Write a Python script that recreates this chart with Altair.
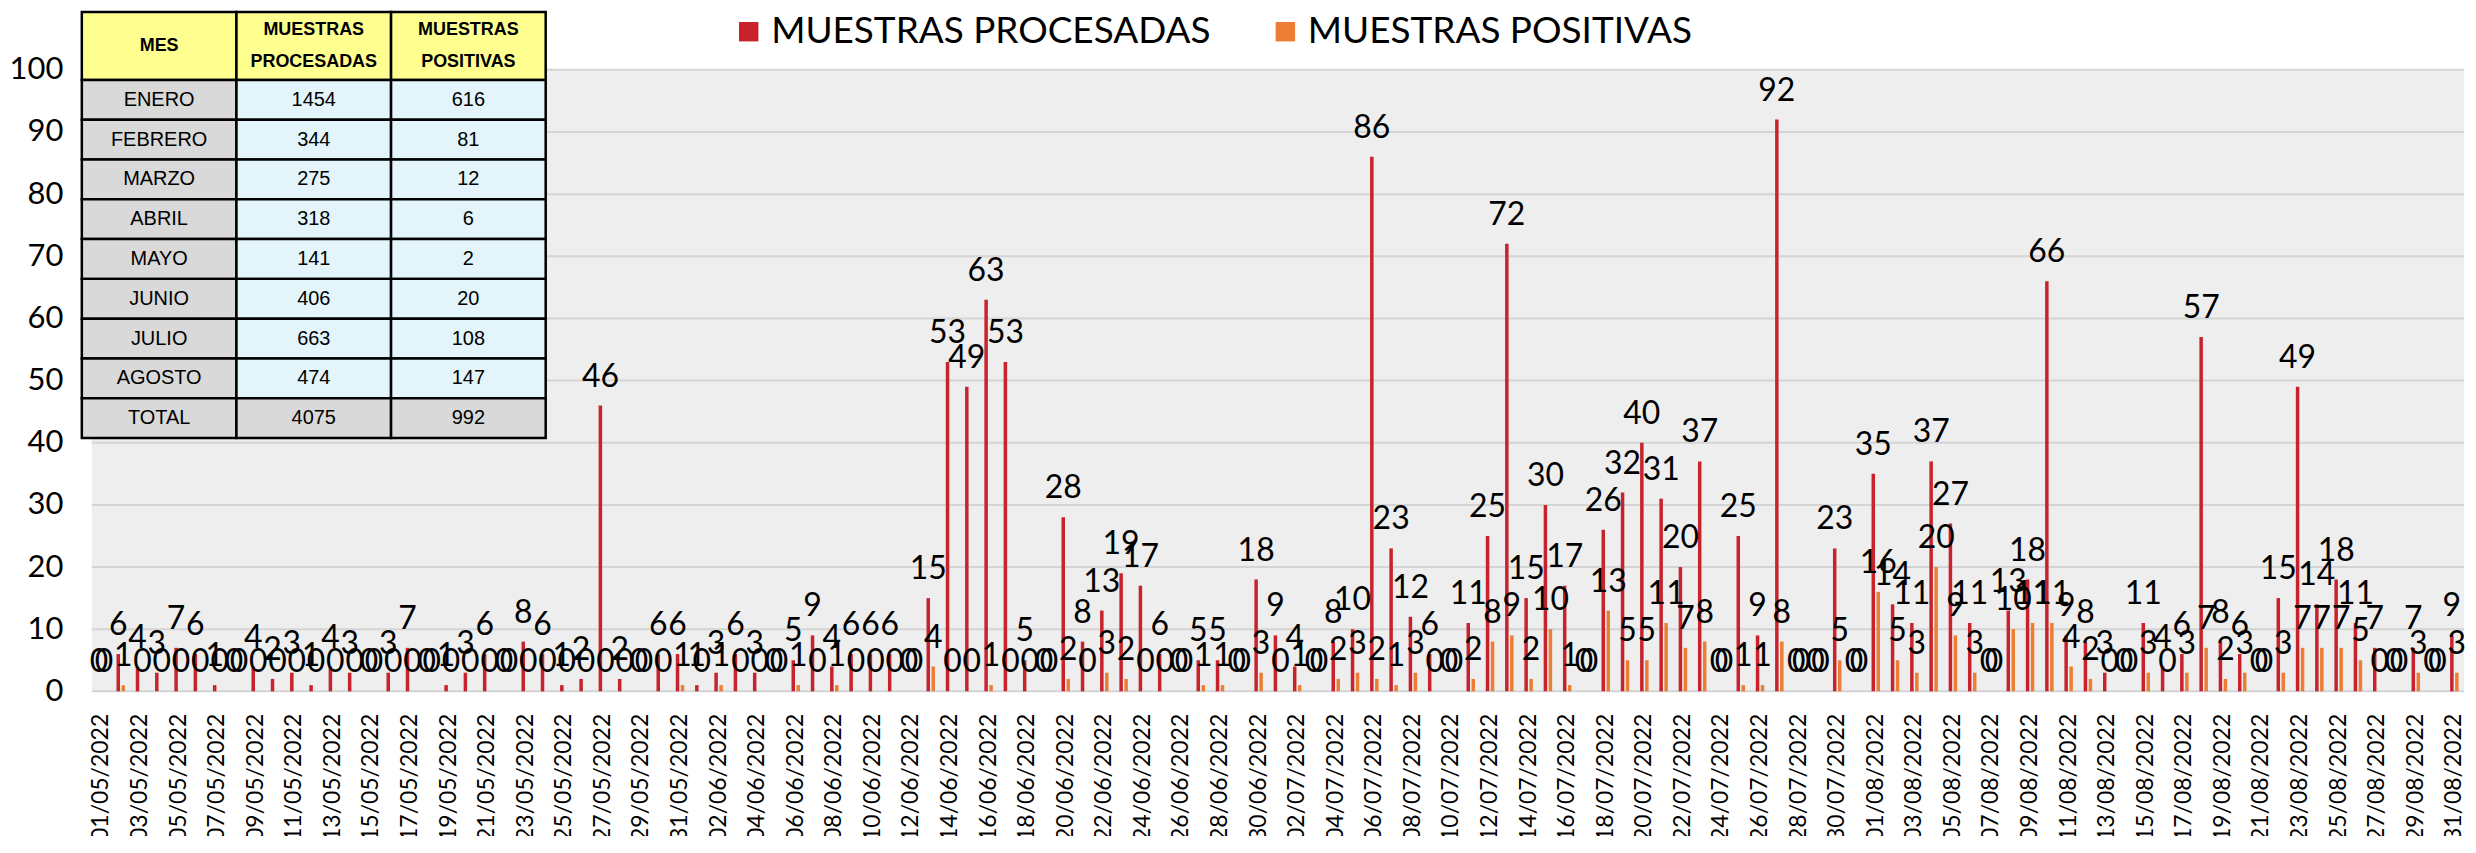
import altair as alt
import pandas as pd

# ---------------- data ----------------
fechas = [d.strftime("%d/%m/%Y") for d in pd.date_range("2022-05-01", "2022-08-31", freq="D")]

procesadas = [
    # mayo
    0, 6, 4, 3, 7, 6, 1, 0, 4, 2, 3, 1, 4, 3, 0, 3, 7, 0, 1, 3, 6, 0, 8, 6, 1, 2, 46, 2, 0, 6, 6,
    # junio
    1, 3, 6, 3, 0, 5, 9, 4, 6, 6, 6, 0, 15, 53, 49, 63, 53, 5, 0, 28, 8, 13, 19, 17, 6, 0, 5, 5, 0, 18,
    # julio
    9, 4, 0, 8, 10, 86, 23, 12, 6, 0, 11, 25, 72, 15, 30, 17, 0, 26, 32, 40, 31, 20, 37, 0, 25, 9, 92, 0, 0, 23, 0,
    # agosto
    35, 14, 11, 37, 27, 11, 0, 13, 18, 66, 9, 8, 3, 0, 11, 4, 6, 57, 8, 6, 0, 15, 49, 14, 18, 11, 7, 0, 7, 0, 9,
]
positivas = [
    0, 1, 0, 0, 0, 0, 0, 0, 0, 0, 0, 0, 0, 0, 0, 0, 0, 0, 0, 0, 0, 0, 0, 0, 0, 0, 0, 0, 0, 0, 1,
    0, 1, 0, 0, 0, 1, 0, 1, 0, 0, 0, 0, 4, 0, 0, 1, 0, 0, 0, 2, 0, 3, 2, 0, 0, 0, 1, 1, 0, 3,
    0, 1, 0, 2, 3, 2, 1, 3, 0, 0, 2, 8, 9, 2, 10, 1, 0, 13, 5, 5, 11, 7, 8, 0, 1, 1, 8, 0, 0, 5, 0,
    16, 5, 3, 20, 9, 3, 0, 10, 11, 11, 4, 2, 0, 0, 3, 0, 3, 7, 2, 3, 0, 3, 7, 7, 7, 5, 0, 0, 3, 0, 3,
]
series = ["MUESTRAS PROCESADAS", "MUESTRAS POSITIVAS"]
colores = ["#C8232C", "#EB7D34"]
y_ticks = list(range(0, 101, 10))

meses = ["ENERO", "FEBRERO", "MARZO", "ABRIL", "MAYO", "JUNIO", "JULIO", "AGOSTO", "TOTAL"]
proc_mes = [1454, 344, 275, 318, 141, 406, 663, 474, 4075]
pos_mes = [616, 81, 12, 6, 2, 20, 108, 147, 992]
encabezados = ["MES", "MUESTRAS\nPROCESADAS", "MUESTRAS\nPOSITIVAS"]

# ---------------- tables ----------------
rows = []
for f, p, q in zip(fechas, procesadas, positivas):
    rows.append({"fecha": f, "serie": series[0], "valor": p})
    rows.append({"fecha": f, "serie": series[1], "valor": q})
df = pd.DataFrame(rows)
df_grid = pd.DataFrame({"valor": y_ticks})

HEAD = 1.71  # header row height in body-row units
LINE_SHIFT = 0.4  # half a header line, in row units
cells = []
for c, h in enumerate(encabezados):
    nl = h.count("\n")
    cells.append({"c0": c, "c1": c + 1, "r0": 0, "r1": HEAD, "txt": h,
                  "fill": "#FFFF8F", "head": 1, "shift": nl * LINE_SHIFT})
for i, (m, p, q) in enumerate(zip(meses, proc_mes, pos_mes)):
    r0 = HEAD + i
    total = (m == "TOTAL")
    for c, (t, fcol) in enumerate([(m, "#D9D9D9"),
                                   (str(p), "#D9D9D9" if total else "#E3F5FB"),
                                   (str(q), "#D9D9D9" if total else "#E3F5FB")]):
        cells.append({"c0": c, "c1": c + 1, "r0": r0, "r1": r0 + 1, "txt": t,
                      "fill": fcol, "head": 0, "shift": 0.0})
dft = pd.DataFrame(cells)
dft["xc"] = (dft["c0"] + dft["c1"]) / 2
dft["yc"] = (dft["r0"] + dft["r1"]) / 2 - dft["shift"]
NR = HEAD + len(meses)

W, H = 2378, 623
FONT = "Lato"

# ---------------- main chart ----------------
x_enc = alt.X("fecha:N", sort=fechas,
              scale=alt.Scale(paddingInner=0.56, paddingOuter=0.28),
              axis=alt.Axis(values=fechas[::2], labelAngle=270, title=None,
                            labelFontSize=23, labelFont=FONT, labelColor="#000000",
                            labelPadding=22, ticks=False, tickSize=0, grid=False,
                            domain=False, labelOverlap=False, labelLimit=400))
xo_enc = alt.XOffset("serie:N", sort=series,
                     scale=alt.Scale(paddingInner=0.3, paddingOuter=0))
y_enc = alt.Y("valor:Q", scale=alt.Scale(domain=[0, 100], nice=False),
              axis=alt.Axis(values=y_ticks, title=None,
                            labelFontSize=31, labelFont=FONT, labelColor="#000000",
                            labelPadding=29, ticks=False, tickSize=0, domain=False,
                            grid=False))

grid = alt.Chart(df_grid).mark_rule(color="#D4D4D4", strokeWidth=2).encode(y=y_enc)

base = alt.Chart(df).encode(x=x_enc, xOffset=xo_enc, y=y_enc)

bars = base.mark_bar().encode(
    color=alt.Color("serie:N", sort=series,
                    scale=alt.Scale(domain=series, range=colores),
                    legend=alt.Legend(title=None, orient="none", legendX=640, legendY=-57,
                                      direction="horizontal", symbolType="square",
                                      symbolSize=380, symbolStrokeWidth=0,
                                      labelFontSize=37, labelFont=FONT, labelColor="#000000",
                                      labelOffset=4, columnPadding=56, padding=0,
                                      labelLimit=800))
)
labels = base.mark_text(baseline="alphabetic", dy=-19, fontSize=32, font=FONT,
                        color="#000000").encode(text="valor:Q")
main = alt.layer(grid, bars, labels)

# ---------------- table overlay ----------------
tx = alt.Scale(domain=[0, 3], range=[-10, 455], nice=False, zero=False)
ty = alt.Scale(domain=[0, NR], range=[-58, 369], nice=False, zero=False)
tbase = alt.Chart(dft)
trect = tbase.mark_rect(stroke="#000000", strokeWidth=2.5).encode(
    x=alt.X("c0:Q", scale=tx, axis=None), x2="c1:Q",
    y=alt.Y("r0:Q", scale=ty, axis=None), y2="r1:Q",
    fill=alt.Fill("fill:N", scale=None),
)
TFONT = "Liberation Sans"
thead = tbase.transform_filter("datum.head == 1").mark_text(
    font=TFONT, fontSize=18, fontWeight="bold", lineBreak="\n", lineHeight=32,
    baseline="middle", color="#000000").encode(
    x=alt.X("xc:Q", scale=tx, axis=None), y=alt.Y("yc:Q", scale=ty, axis=None), text="txt:N")
tbody = tbase.transform_filter("datum.head == 0").mark_text(
    font=TFONT, fontSize=20, baseline="middle", color="#000000").encode(
    x=alt.X("xc:Q", scale=tx, axis=None), y=alt.Y("yc:Q", scale=ty, axis=None), text="txt:N")
table = alt.layer(trect, thead, tbody)

chart = alt.layer(main, table).resolve_scale(
    x="independent", y="independent"
).properties(
    width=W, height=H,
    autosize=alt.AutoSizeParams(type="none"),
    padding={"left": 84, "top": 61, "right": 4, "bottom": 144},
    background="#FFFFFF",
).configure_view(stroke=None, fill="#EEEEEE")

chart.save("out.html", embed_options={"renderer": "svg", "actions": False})
